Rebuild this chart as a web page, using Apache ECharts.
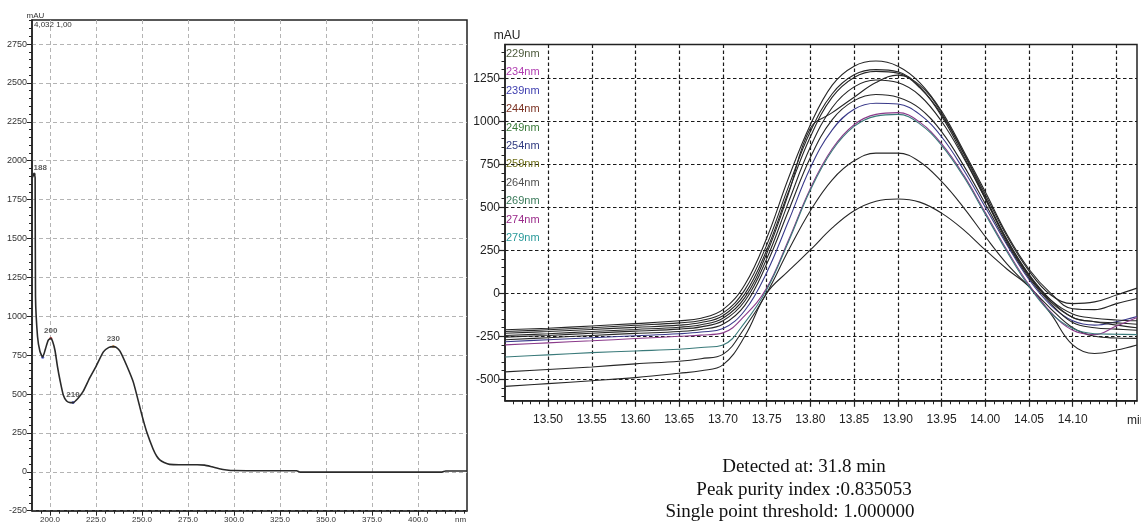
<!DOCTYPE html>
<html>
<head>
<meta charset="utf-8">
<script src="https://cdn.jsdelivr.net/npm/echarts@6/dist/echarts.min.js"></script>
<style>
  html, body { margin: 0; padding: 0; background: #fff; }
  #main { width: 1141px; height: 524px; }
</style>
</head>
<body>
<div id="main"></div>
<script>
// ---- left panel: UV spectrum ----
const specNm  = [190.3, 191.4, 191.9, 192.1, 193.2, 194.5, 196.0, 197.5, 199.0, 200.4, 201.5, 202.7, 204.0, 205.4, 207.2, 209.0, 211.0, 212.5, 215.0, 218.0, 221.7, 225.0, 229.0, 232.0, 234.4, 236.0, 238.0, 241.7, 245.3, 250.0, 252.6, 256.0, 258.0, 259.8, 262.0, 265.0, 270.0, 280.0, 284.0, 288.0, 292.0, 296.0, 300.0, 310.0, 320.0, 334.0, 336.0, 360.0, 400.0, 413.0, 415.0, 426.6];
const specAbs = [1890, 1915, 1890, 1130, 870, 775, 737, 790, 845, 858, 835, 780, 680, 590, 494, 455, 445, 445, 470, 517, 607, 678, 771, 800, 805, 800, 776, 682, 575, 361, 254, 147, 100, 75, 60, 48, 45, 45, 43, 32, 20, 12, 8, 7, 7, 7, -2, -2, -2, -2, 5, 5];
const peakNm   = [191.4, 196.0, 200.4, 212.5, 234.4];
const peakAbs  = [1915, 737, 858, 445, 805];
const peakText = ['188', '', '200', '210', '230'];
const leftXTicks = [200, 225, 250, 275, 300, 325, 350, 375, 400];
const leftYTicks = [-250, 0, 250, 500, 750, 1000, 1250, 1500, 1750, 2000, 2250, 2500, 2750];

// ---- right panel: chromatogram at several wavelengths ----
const rtTime = [13.451, 13.50, 13.55, 13.60, 13.65, 13.675, 13.70, 13.725, 13.75, 13.775, 13.80, 13.825, 13.85, 13.875, 13.90, 13.925, 13.95, 13.975, 14.00, 14.025, 14.05, 14.075, 14.10, 14.125, 14.15, 14.1735];
const wl229 = [-212, -203, -190, -176, -160, -145, -95, 50, 320, 670, 980, 1210, 1320, 1350, 1320, 1225, 1060, 830, 590, 340, 140, 0, -90, -95, -60, -30];
const wl234 = [-222, -212, -200, -186, -172, -158, -115, 20, 280, 620, 940, 1160, 1270, 1300, 1288, 1200, 1040, 820, 575, 330, 130, -10, -60, -50, -10, 30];
const wl239 = [-282, -270, -258, -247, -235, -225, -205, -100, 120, 420, 730, 950, 1070, 1105, 1100, 1040, 910, 720, 500, 280, 80, -70, -160, -185, -165, -135];
const wl244 = [-232, -222, -210, -198, -185, -170, -130, -5, 250, 590, 910, 1140, 1255, 1290, 1280, 1195, 1030, 800, 550, 300, 100, -40, -120, -145, -155, -160];
const wl249 = [-245, -235, -222, -210, -197, -183, -145, -25, 230, 580, 960, 1050, 1140, 1225, 1268, 1210, 1050, 815, 560, 310, 105, -50, -140, -165, -172, -180];
const wl254 = [-255, -245, -232, -220, -208, -195, -160, -45, 200, 530, 850, 1080, 1200, 1240, 1225, 1150, 1000, 790, 550, 310, 110, -40, -140, -165, -185, -200];
const wl259 = [-270, -258, -245, -233, -222, -210, -180, -70, 170, 480, 790, 1010, 1120, 1156, 1140, 1075, 940, 745, 520, 290, 90, -60, -170, -200, -208, -215];
const wl264 = [-457, -443, -428, -410, -395, -380, -355, -200, 0, 250, 480, 660, 770, 815, 815, 765, 650, 500, 330, 170, 40, -90, -200, -250, -260, -262];
const wl269 = [-541, -525, -508, -490, -465, -450, -416, -250, 0, 130, 252, 380, 480, 535, 548, 530, 466, 370, 252, 140, 39, -120, -300, -350, -330, -300];
const wl274 = [-300, -288, -276, -263, -250, -243, -230, -130, 30, 310, 610, 840, 980, 1040, 1050, 995, 870, 690, 470, 250, 50, -110, -215, -240, -190, -140];
const wl279 = [-370, -358, -345, -335, -325, -315, -300, -170, 20, 300, 600, 830, 970, 1030, 1040, 985, 860, 680, 460, 240, 40, -115, -205, -235, -238, -240];
const wlNames = ['229nm', '234nm', '239nm', '244nm', '249nm', '254nm', '259nm', '264nm', '269nm', '274nm', '279nm'];
const wlData  = [wl229, wl234, wl239, wl244, wl249, wl254, wl259, wl264, wl269, wl274, wl279];
const rightXTicks  = [13.50, 13.55, 13.60, 13.65, 13.70, 13.75, 13.80, 13.85, 13.90, 13.95, 14.00, 14.05, 14.10, 14.15];
const rightXLabels = [13.50, 13.55, 13.60, 13.65, 13.70, 13.75, 13.80, 13.85, 13.90, 13.95, 14.00, 14.05, 14.10];
const rightYTicks  = [-500, -250, 0, 250, 500, 750, 1000, 1250];

// styling
const legendColors = ['#4d5a3c', '#b03cb0', '#4040b0', '#7a3020', '#3a7a3a', '#303a80', '#6e6e18', '#505050', '#3a7a5a', '#9a2a8a', '#2a9a9a'];
const lineColors   = ['#262626', '#262626', '#3a3a8a', '#262626', '#262626', '#262626', '#262626', '#262626', '#262626', '#8a3a8a', '#3a7a7a'];
const peakColors   = ['#222', '#3040c0', '#d03030', '#3040c0', '#d08030'];
const narrow = '"Liberation Sans Narrow", "Liberation Sans", Arial, sans-serif';
const sans = '"Liberation Sans", Arial, sans-serif';
const serif = '19px "Liberation Serif", "Times New Roman", serif';

function minorTicks(min, max, step) {
    let out = [];
    for (let v = Math.ceil(min / step) * step; v <= max + 1e-9; v += step) {
        out.push(+v.toFixed(4));
    }
    return out;
}

let chart = echarts.init(document.getElementById('main'), null, { renderer: 'canvas' });

let leftGrid = { color: '#b4b4b4', width: 1, type: [4, 3] };
let rightGrid = { color: '#1a1a1a', width: 1.2, type: [3.5, 2.5] };

let option = {
    animation: false,
    backgroundColor: '#fff',
    grid: [
        { left: 32, top: 20, width: 435, height: 490.7, show: true, borderColor: '#222', borderWidth: 1.5, containLabel: false, outerBoundsMode: 'none' },
        { left: 505, top: 44.5, width: 632, height: 356.3, show: true, borderColor: '#222', borderWidth: 1.5, containLabel: false, outerBoundsMode: 'none' }
    ],
    xAxis: [
        {
            type: 'value', gridIndex: 0, min: 190.2, max: 426.6, position: 'bottom',
            axisLine: { onZero: false, lineStyle: { color: '#222', width: 1.5 } },
            axisTick: { customValues: leftXTicks, length: 5, lineStyle: { color: '#222' } },
            axisLabel: { customValues: leftXTicks, formatter: v => v.toFixed(1), fontSize: 8, fontFamily: sans, color: '#333', margin: 5 },
            splitLine: { show: true, lineStyle: leftGrid }
        },
        {
            type: 'value', gridIndex: 0, min: 190.2, max: 426.6, position: 'bottom',
            axisLine: { show: false, onZero: false },
            axisTick: { customValues: minorTicks(190.2, 426.6, 5), length: 3, lineStyle: { color: '#222' } },
            axisLabel: { show: false },
            splitLine: { show: false }
        },
        {
            type: 'value', gridIndex: 1, min: 13.4508, max: 14.1735, position: 'bottom',
            axisLine: { onZero: false, lineStyle: { color: '#222', width: 1.5 } },
            axisTick: { customValues: rightXTicks, length: 6, lineStyle: { color: '#222', width: 1.2 } },
            axisLabel: { customValues: rightXLabels, formatter: v => v.toFixed(2), fontSize: 12, fontFamily: narrow, color: '#222', margin: 13 },
            splitLine: { show: true, lineStyle: rightGrid }
        },
        {
            type: 'value', gridIndex: 1, min: 13.4508, max: 14.1735, position: 'bottom',
            axisLine: { show: false, onZero: false },
            axisTick: { customValues: minorTicks(13.4508, 14.1735, 0.01), length: 3.5, lineStyle: { color: '#222' } },
            axisLabel: { show: false },
            splitLine: { show: false }
        }
    ],
    yAxis: [
        {
            type: 'value', gridIndex: 0, min: -250, max: 2904.5, position: 'left',
            axisLine: { onZero: false, lineStyle: { color: '#222', width: 1.5 } },
            axisTick: { customValues: leftYTicks, length: 5, lineStyle: { color: '#222' } },
            axisLabel: { customValues: leftYTicks, formatter: v => String(v), fontSize: 9, fontFamily: sans, color: '#333', margin: 5 },
            splitLine: { show: true, lineStyle: leftGrid }
        },
        {
            type: 'value', gridIndex: 0, min: -250, max: 2904.5, position: 'left',
            axisLine: { show: false, onZero: false },
            axisTick: { customValues: minorTicks(-250, 2904.5, 50), length: 3, lineStyle: { color: '#222' } },
            axisLabel: { show: false },
            splitLine: { show: false }
        },
        {
            type: 'value', gridIndex: 1, min: -624.9, max: 1446.3, position: 'left',
            axisLine: { onZero: false, lineStyle: { color: '#222', width: 1.5 } },
            axisTick: { customValues: rightYTicks, length: 6, lineStyle: { color: '#222', width: 1.2 } },
            axisLabel: { customValues: rightYTicks, formatter: v => String(v), fontSize: 12, fontFamily: narrow, color: '#222', margin: 5 },
            splitLine: { show: true, lineStyle: rightGrid }
        },
        {
            type: 'value', gridIndex: 1, min: -624.9, max: 1446.3, position: 'left',
            axisLine: { show: false, onZero: false },
            axisTick: { customValues: minorTicks(-624.9, 1446.3, 50), length: 3.5, lineStyle: { color: '#222' } },
            axisLabel: { show: false },
            splitLine: { show: false }
        }
    ],
    legend: {
        orient: 'vertical',
        left: 501,
        top: 48,
        itemWidth: 0,
        itemHeight: 0,
        itemGap: 6.4,
        selectedMode: false,
        padding: 0,
        textStyle: { fontSize: 11, fontFamily: narrow, lineHeight: 12 },
        data: wlNames.map((n, i) => ({ name: n, icon: 'none', textStyle: { color: legendColors[i] } }))
    },
    series: [
        {
            name: 'spectrum',
            type: 'line',
            xAxisIndex: 0, yAxisIndex: 0,
            showSymbol: false,
            smooth: 0.2,
            lineStyle: { color: '#2a2a2a', width: 1.6 },
            data: specNm.map((n, i) => [n, specAbs[i]])
        },
        {
            name: 'peaks',
            type: 'scatter',
            xAxisIndex: 0, yAxisIndex: 0,
            symbolSize: 3,
            data: peakNm.map((n, i) => ({
                value: [n, peakAbs[i]],
                itemStyle: { color: peakColors[i] },
                label: { offset: i === 0 ? [6, 1] : [0, 0] }
            })),
            label: {
                show: true,
                position: 'top',
                distance: 2,
                formatter: p => peakText[p.dataIndex],
                fontSize: 8,
                fontWeight: 'bold',
                fontFamily: sans,
                color: '#333'
            }
        }
    ].concat(wlData.map((d, i) => ({
        name: wlNames[i],
        type: 'line',
        xAxisIndex: 2, yAxisIndex: 2,
        showSymbol: false,
        smooth: 0.4,
        color: lineColors[i],
        lineStyle: { color: lineColors[i], width: 1.1 },
        data: rtTime.map((t, j) => [t, d[j]])
    }))),
    graphic: [
        { type: 'text', x: 35.5, y: 15.5, style: { text: 'mAU', font: '8px ' + sans, fill: '#333', align: 'center', verticalAlign: 'middle' } },
        { type: 'text', x: 34, y: 24.5, style: { text: '4,032 1,00', font: '8px ' + sans, fill: '#333', align: 'left', verticalAlign: 'middle' } },
        { type: 'text', x: 455, y: 520, style: { text: 'nm', font: '8px ' + sans, fill: '#333', align: 'left', verticalAlign: 'middle' } },
        { type: 'text', x: 507, y: 36, style: { text: 'mAU', font: '12px ' + narrow, fill: '#222', align: 'center', verticalAlign: 'middle' } },
        { type: 'text', x: 1127, y: 421, style: { text: 'min', font: '12px ' + narrow, fill: '#222', align: 'left', verticalAlign: 'middle' } },
        { type: 'text', x: 804, y: 467, style: { text: 'Detected at: 31.8 min', font: serif, fill: '#111', align: 'center', verticalAlign: 'middle' } },
        { type: 'text', x: 804, y: 490, style: { text: 'Peak purity index :0.835053', font: serif, fill: '#111', align: 'center', verticalAlign: 'middle' } },
        { type: 'text', x: 790, y: 512, style: { text: 'Single point threshold: 1.000000', font: serif, fill: '#111', align: 'center', verticalAlign: 'middle' } }
    ]
};

option && chart.setOption(option);
</script>
</body>
</html>
